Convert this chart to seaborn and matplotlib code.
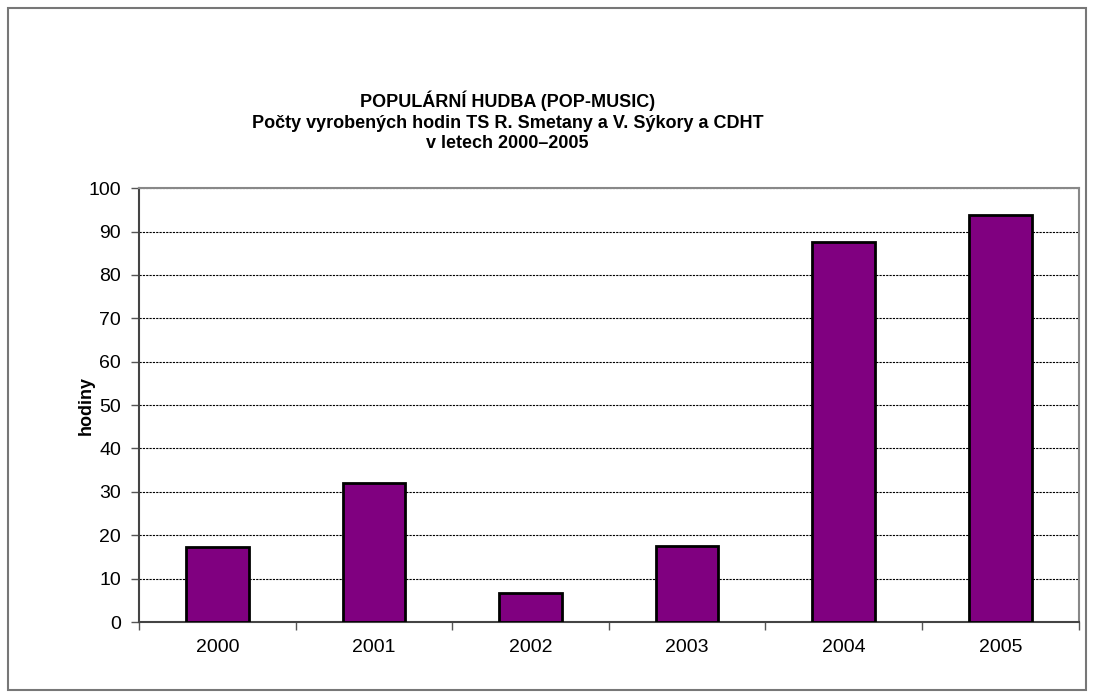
import pandas as pd
import matplotlib.pyplot as plt
import seaborn as sns
from matplotlib.patches import Rectangle

# data
roky = ['2000', '2001', '2002', '2003', '2004', '2005']
hodiny = [17.3, 32, 6.8, 17.6, 87.7, 93.8]

df = pd.DataFrame({'rok': roky, 'hodiny': hodiny})

sns.set_style('white')
plt.rcParams['font.family'] = ['Liberation Sans', 'DejaVu Sans']
plt.rcParams['text.color'] = 'black'
plt.rcParams['xtick.color'] = 'black'
plt.rcParams['ytick.color'] = 'black'
plt.rcParams['axes.labelcolor'] = 'black'

fig = plt.figure(figsize=(10.94, 6.97), dpi=100)
ax = fig.add_axes([0.127, 0.1076, 0.859, 0.6224])

sns.barplot(data=df, x='rok', y='hodiny', color='#800080', width=0.4,
            edgecolor='black', linewidth=2, saturation=1, ax=ax, zorder=3)

ax.set_ylim(0, 100)
ax.set_xlim(-0.5, 5.5)
ax.set_yticks(range(0, 101, 10))
ax.yaxis.grid(True, color='black', linestyle=(0, (2, 1)), linewidth=0.8, zorder=0)
ax.set_axisbelow(True)

# category boundary ticks on x axis
ax.set_xticks([i - 0.5 for i in range(7)], minor=True)
ax.tick_params(axis='x', which='minor', length=6, width=1, color='#555555', direction='out')
ax.tick_params(axis='x', which='major', length=0, labelsize=14, pad=12)
ax.tick_params(axis='y', length=6, width=1, color='#555555', direction='out', labelsize=14, pad=7)
ax.xaxis.set_ticks_position('bottom')
ax.yaxis.set_ticks_position('left')

for side in ['top', 'right']:
    ax.spines[side].set_color('#888888')
    ax.spines[side].set_linewidth(1.5)
for side in ['left', 'bottom']:
    ax.spines[side].set_color('#444444')
    ax.spines[side].set_linewidth(1.5)

ax.set_xlabel('')
ax.set_ylabel('hodiny', fontsize=13, fontweight='bold')
ax.yaxis.set_label_coords(-0.047, 0.5)

fig.text(0.464, 0.826, 'POPULÁRNÍ HUDBA (POP-MUSIC)\nPočty vyrobených hodin TS R. Smetany a V. Sýkory a CDHT\nv letech 2000–2005',
         ha='center', va='center', fontsize=13, fontweight='bold', linespacing=1.25)

# outer chart border
fig.patches.append(Rectangle((8 / 1094, 7 / 697), 1078 / 1094, 682 / 697, transform=fig.transFigure,
                             fill=False, edgecolor='#777777', linewidth=1.5))

fig.savefig('out.png', dpi=100)
